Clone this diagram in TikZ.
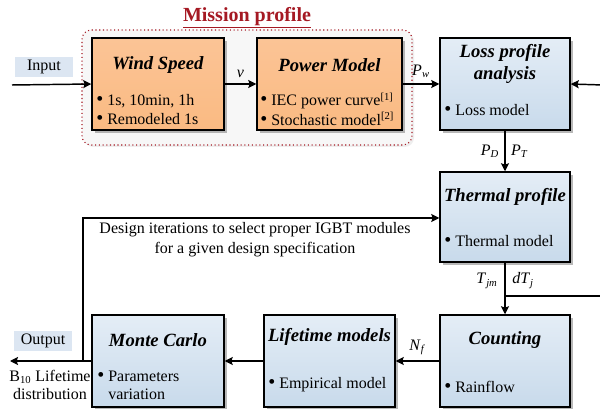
\documentclass[tikz,border=0pt]{standalone}
\usepackage{fontspec}
\setmainfont{Liberation Serif}
\usetikzlibrary{arrows.meta,shadows}

\definecolor{orTop}{RGB}{251,196,150}
\definecolor{orBot}{RGB}{250,186,130}
\definecolor{blTop}{RGB}{228,237,246}
\definecolor{blBot}{RGB}{200,218,235}
\definecolor{tagBlue}{RGB}{220,230,242}
\definecolor{mpRed}{RGB}{165,25,35}

\tikzset{
  blk/.style={draw,line width=1.1pt,minimum height=69pt,
    drop shadow={shadow xshift=2.2pt,shadow yshift=-2.2pt,fill=black!55}},
  orblk/.style={blk,top color=orTop,bottom color=orBot},
  blblk/.style={blk,top color=blTop,bottom color=blBot},
  ttl/.style={font=\fontsize{14}{16.5}\selectfont\bfseries\itshape,align=center},
  itm/.style={font=\fontsize{12}{13.5}\selectfont,anchor=west,align=left,inner sep=0pt},
  lbl/.style={font=\fontsize{12}{14}\selectfont,inner sep=1pt},
  tag/.style={fill=tagBlue,font=\fontsize{12}{14}\selectfont,minimum width=44pt,minimum height=15pt,inner sep=0pt},
  arr/.style={line width=1.1pt,-{Stealth[length=6pt,width=6pt,inset=1pt]}},
  ln/.style={line width=1.1pt}
}
\newcommand\sym[2]{\textit{#1}\textsubscript{\textit{#2}}}
\newcommand\bul{{\fontsize{15}{13.5}\selectfont\textbullet}\ }

\begin{document}
\begin{tikzpicture}[x=0.75pt,y=-0.75pt]
  \useasboundingbox[fill=white] (0,0) rectangle (600,409);

  \node[draw=mpRed,dotted,line width=0.8pt,rounded corners=7pt,fill=gray!6,
    drop shadow={shadow xshift=1.5pt,shadow yshift=-1.5pt,fill=gray!25},
    minimum width=247.5pt,minimum height=86.25pt] (mp) at (247,87.5) {};
  \node[font=\fontsize{15}{17}\selectfont\bfseries,text=mpRed] (mpt) at (247,18) {\underline{Mission profile}};

  \node[orblk,minimum width=99pt] (ws) at (158,84) {};
  \node[orblk,minimum width=108.75pt] (pm) at (329.5,84) {};
  \node[blblk,minimum width=97.5pt] (loss) at (505,84) {};
  \node[blblk,minimum width=97.5pt,minimum height=67.5pt] (therm) at (505,217) {};
  \node[blblk,minimum width=97.5pt] (count) at (505,361) {};
  \node[blblk,minimum width=98.25pt] (life) at (329.5,361) {};
  \node[blblk,minimum width=99pt] (mc) at (158,361) {};

  \node[ttl] (wst) at (158,65) {Wind Speed};
  \node[itm] (ws1) at (96,101) {\bul 1s, 10min, 1h};
  \node[itm] (ws2) at (96,119) {\bul Remodeled 1s};
  \node[ttl] (pmt) at (329.5,65) {Power Model};
  \node[itm] (pm1) at (260,101) {\bul IEC power curve\textsuperscript{[1]}};
  \node[itm] (pm2) at (260,119) {\bul Stochastic model\textsuperscript{[2]}};
  \node[ttl] (losst) at (505,64) {Loss profile\\analysis};
  \node[itm] (loss1) at (444,110) {\bul Loss model};
  \node[ttl] (thermt) at (505,197) {Thermal profile};
  \node[itm] (therm1) at (444,241) {\bul Thermal model};
  \node[ttl] (countt) at (505,340) {Counting};
  \node[itm] (count1) at (444,387) {\bul Rainflow};
  \node[ttl] (lifet) at (329.5,337) {Lifetime models};
  \node[itm] (life1) at (268,385) {\bul Empirical model};
  \node[ttl] (mct) at (158,340) {Monte Carlo};
  \node[itm] (mc1) at (97,385) {\bul Parameters\\\phantom{\bul}variation};

  \node[tag] (intag) at (44,67) {Input};
  \node[tag] (outtag) at (43,341) {Output};
  \node[lbl,align=center,font=\fontsize{12}{13.5}\selectfont] (b10) at (50,385) {B\textsubscript{10} Lifetime\\distribution};
  \node[lbl,align=center,font=\fontsize{12}{15}\selectfont] (dsg) at (255,240) {Design iterations to select proper IGBT modules\\for a given design specification};

  \coordinate (in) at (12,85);
  \coordinate (out) at (10,361);
  \coordinate (fb1) at (83,361);
  \coordinate (fb2) at (83,218);
  \coordinate (br) at (505,296);
  \coordinate (rd) at (603,296);
  \coordinate (ru) at (603,85);

  \draw[arr] (in) -- (ws.west);
  \draw[arr] (ws.east) -- (pm.west) node[lbl,midway,above=3pt] (v) {\textit{v}};
  \draw[arr] (pm.east) -- (loss.west) node[lbl,midway,above=3pt] (pw) {\sym{P}{w}};
  \draw[arr] (loss.south) -- (therm.north)
    node[lbl,midway,left=3pt] (pd) {\sym{P}{D}} node[lbl,midway,right=3pt] (pt) {\sym{P}{T}};
  \draw[arr] (therm.south) -- (count.north)
    node[lbl,pos=0.35,left=4pt] (tjm) {\sym{T}{jm}} node[lbl,pos=0.35,right=4pt] (dtj) {\textit{dT}\textsubscript{\textit{j}}};
  \draw[ln] (br) -- (rd);
  \draw[arr] (rd) -- (ru) -- (loss.east);
  \draw[arr] (count.west) -- (life.east) node[lbl,midway,above=3pt] (nf) {\sym{N}{f}};
  \draw[arr] (life.west) -- (mc.east);
  \draw[arr] (mc.west) -- (out);
  \draw[arr] (fb1) -- (fb2) -- (fb2 -| therm.west);
\end{tikzpicture}
\end{document}
